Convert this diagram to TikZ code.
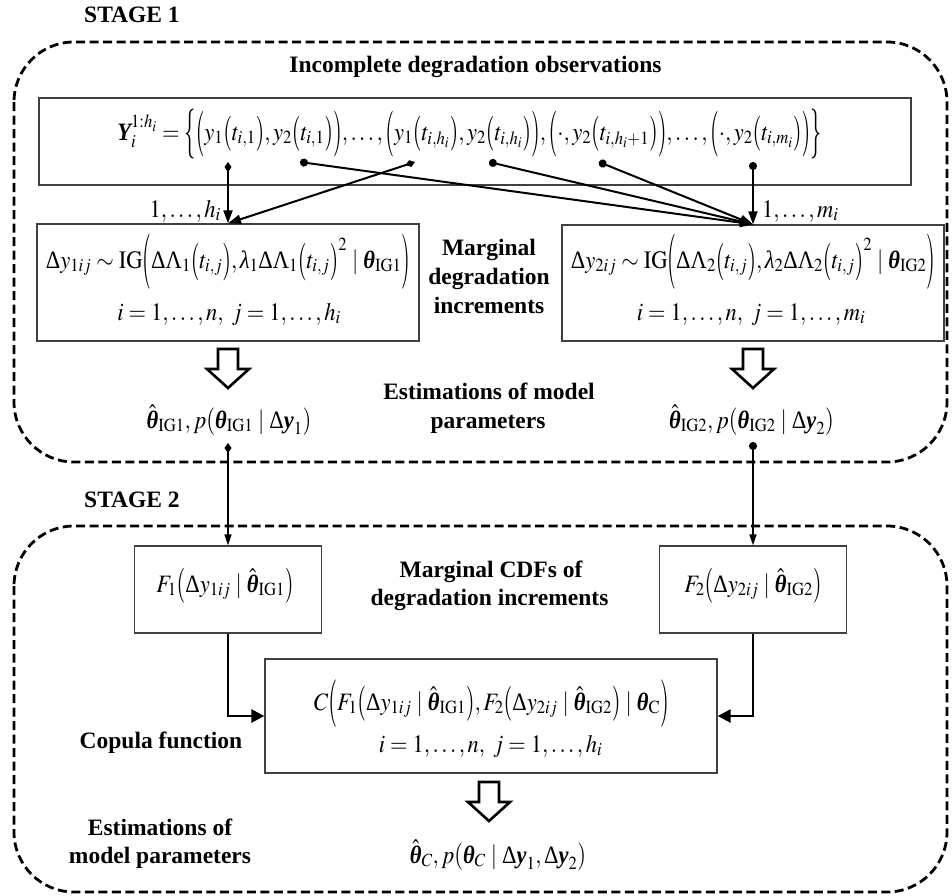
\documentclass[tikz,border=0pt]{standalone}
\usepackage{amsmath}
\usepackage{mathptmx}
\usepackage[no-math]{fontspec}
\setmainfont{Liberation Serif}
\usetikzlibrary{arrows.meta,calc}
\newcommand\Op[1]{\mathopen{\vcenter{\hbox{\scalebox{1}[#1]{$($}}}}}
\newcommand\Cl[1]{\mathclose{\vcenter{\hbox{\scalebox{1}[#1]{$)$}}}}}
\newcommand\Ob[1]{\mathopen{\vcenter{\hbox{\scalebox{1}[#1]{$\{$}}}}}
\newcommand\Cb[1]{\mathclose{\vcenter{\hbox{\scalebox{1}[#1]{$\}$}}}}}
\newcommand\bth{\text{\bfseries\itshape θ}}
\newcommand\hbth{\hat{\bth}}
\newcommand\by{\text{\bfseries\itshape y}}
\newcommand\bY{\text{\bfseries\itshape Y}}
\newcommand\Dl{\text{Δ}}
\newcommand\Lm{\text{Λ}}
\newcommand\lm{\text{\itshape λ}}
\newcommand\fm[1]{\scalebox{0.9}[1]{$\thinmuskip=2mu\medmuskip=3mu\thickmuskip=4mu #1$}}
\begin{document}
\begin{tikzpicture}[x=1pt,y=-1pt,
  lbl/.style={font=\fontsize{23.5}{29}\selectfont\bfseries, inner sep=0pt, anchor=base},
  mth/.style={font=\fontsize{25}{29}\selectfont, inner sep=0pt, anchor=base},
  box/.style={draw=black!75, line width=1.3pt, inner sep=0pt},
  stagebox/.style={draw, line width=2.8pt, dash pattern=on 9pt off 4.5pt, rounded corners=60pt},
  conn/.style={line width=2pt, -{Triangle[length=13pt,width=9pt]}},
  dconn/.style={conn, {Diamond[length=10pt,width=7pt]}-{Triangle[length=13pt,width=9pt]}},
  cconn/.style={conn, {Circle[length=8pt]}-{Triangle[length=13pt,width=9pt]}},
  sconn/.style={line width=1.5pt, -{Triangle[length=11pt,width=7pt]}},
  sdconn/.style={sconn, {Diamond[length=10pt,width=7pt]}-{Triangle[length=11pt,width=7pt]}},
  scconn/.style={sconn, {Circle[length=8pt]}-{Triangle[length=11pt,width=7pt]}},
  fconn/.style={line width=2.5pt, -{Triangle[length=13pt,width=13pt]}},
  hollowarrow/.pic={\draw[line width=2.6pt, line join=miter, fill=white]
     (-10,0) -- (10,0) -- (10,20) -- (21,20) -- (0,39) -- (-21,20) -- (-10,20) -- cycle;}
]
\useasboundingbox (0,0) rectangle (952,895);

% ---------- STAGE 1 ----------
\node[lbl, anchor=base west] (st1) at (84,22) {STAGE 1};
\draw[stagebox] (14,42) rectangle (947,462);
\node[lbl] (obs) at (475.5,72) {Incomplete degradation observations};

\node[box, minimum width=872pt, minimum height=87pt] (top) at (475,141.5) {};
\node[mth] (topf) at (469.5,140) {\fm{\bY_i^{1:h_i}=\Ob{2.0}\Op{1.83}y_1\Op{1.4}t_{i,1}\Cl{1.4},y_2\Op{1.4}t_{i,1}\Cl{1.4}\Cl{1.83},\ldots,\Op{1.83}y_1\Op{1.4}t_{i,h_i}\Cl{1.4},y_2\Op{1.4}t_{i,h_i}\Cl{1.4}\Cl{1.83},\Op{1.83}\cdot,y_2\Op{1.4}t_{i,h_i+1}\Cl{1.4}\Cl{1.83},\ldots,\Op{1.83}\cdot,y_2\Op{1.4}t_{i,m_i}\Cl{1.4}\Cl{1.83}\Cb{2.0}}};

\node[box, minimum width=382pt, minimum height=117pt] (L) at (228,282.5) {};
\node[mth] (L1) at (228,268) {\fm{\Dl y_{1ij}\sim\mathrm{IG}\Op{2.2}\Dl\Lm_1\Op{1.5}t_{i,j}\Cl{1.5},\lm_1\Dl\Lm_1\Op{1.5}t_{i,j}\Cl{1.5}^2\mid\bth_{\mathrm{IG1}}\Cl{2.2}}};
\node[mth] (L2) at (229,320) {\fm{i=1,\ldots,n,\ j=1,\ldots,h_i}};

\node[box, minimum width=382pt, minimum height=116pt] (R) at (753,283) {};
\node[mth] (R1) at (753,268) {\fm{\Dl y_{2ij}\sim\mathrm{IG}\Op{2.2}\Dl\Lm_2\Op{1.5}t_{i,j}\Cl{1.5},\lm_2\Dl\Lm_2\Op{1.5}t_{i,j}\Cl{1.5}^2\mid\bth_{\mathrm{IG2}}\Cl{2.2}}};
\node[mth] (R2) at (751,320) {\fm{i=1,\ldots,n,\ j=1,\ldots,m_i}};

\node[lbl] (mg1) at (489,255) {Marginal};
\node[lbl] (mg2) at (489,284) {degradation};
\node[lbl] (mg3) at (489,313) {increments};

\coordinate (s1) at (228,162);
\coordinate (s2) at (300,162);
\coordinate (s3) at (415,162);
\coordinate (s4) at (489,162);
\coordinate (s5) at (599,162);
\coordinate (s6) at (753,162);
\draw[dconn] (s1) -- (L.north);
\draw[dconn] (s3) -- (L.north);
\draw[cconn] (s2) -- (R.north);
\draw[cconn] (s4) -- (R.north);
\draw[cconn] (s5) -- (R.north);
\draw[cconn] (s6) -- (R.north);
\node[mth, anchor=base east] (hl) at (221,217) {\fm{1,\ldots,h_i}};
\node[mth, anchor=base west] (ml) at (762,217) {\fm{1,\ldots,m_i}};

\pic at (228,349) {hollowarrow};
\pic at (753,349) {hollowarrow};

\node[mth] (TL) at (229,428) {\fm{\hbth_{\mathrm{IG1}},p\Op{1.1}\bth_{\mathrm{IG1}}\mid\Dl\by_1\Cl{1.1}}};
\node[mth] (TR) at (751.5,428) {\fm{\hbth_{\mathrm{IG2}},p\Op{1.1}\bth_{\mathrm{IG2}}\mid\Dl\by_2\Cl{1.1}}};
\node[lbl] (es1) at (489,399) {Estimations of model};
\node[lbl] (es2) at (488,428) {parameters};

% ---------- STAGE 2 ----------
\node[lbl, anchor=base west] (st2) at (84,507) {STAGE 2};
\draw[stagebox] (14,526) rectangle (947,892);

\node[box, minimum width=187pt, minimum height=87pt] (F1) at (228,589.5) {};
\node[mth] (F1f) at (225,592) {\fm{F_1\Op{1.4}\Dl y_{1ij}\mid\hbth_{\mathrm{IG1}}\Cl{1.4}}};
\node[box, minimum width=187pt, minimum height=87pt] (F2) at (753,589.5) {};
\node[mth] (F2f) at (753,592) {\fm{F_2\Op{1.4}\Dl y_{2ij}\mid\hbth_{\mathrm{IG2}}\Cl{1.4}}};
\node[lbl] (cd1) at (491,577) {Marginal CDFs of};
\node[lbl] (cd2) at (489.5,605) {degradation increments};

\coordinate (d1) at (228,443);
\coordinate (d2) at (753,442);
\draw[sdconn] (d1) -- (F1.north);
\draw[scconn] (d2) -- (F2.north);

\node[box, minimum width=452pt, minimum height=114pt] (C) at (491,716) {};
\node[mth] (C1) at (491.5,710) {\fm{C\Op{1.9}F_1\Op{1.4}\Dl y_{1ij}\mid\hbth_{\mathrm{IG1}}\Cl{1.4},F_2\Op{1.4}\Dl y_{2ij}\mid\hbth_{\mathrm{IG2}}\Cl{1.4}\mid\bth_{\mathrm{C}}\Cl{1.9}}};
\node[mth] (C2) at (490.5,752) {\fm{i=1,\ldots,n,\ j=1,\ldots,h_i}};
\draw[fconn] (F1.south) |- (C.west);
\draw[fconn] (F2.south) |- (C.east);

\node[lbl] (cop) at (161,748) {Copula function};
\pic at (489,782) {hollowarrow};
\node[mth] (TC) at (498,863) {\fm{\hbth_C,p\Op{1.1}\bth_C\mid\Dl\by_1,\Dl\by_2\Cl{1.1}}};
\node[lbl] (em1) at (160,835) {Estimations of};
\node[lbl] (em2) at (160,863) {model parameters};
\end{tikzpicture}
\end{document}
